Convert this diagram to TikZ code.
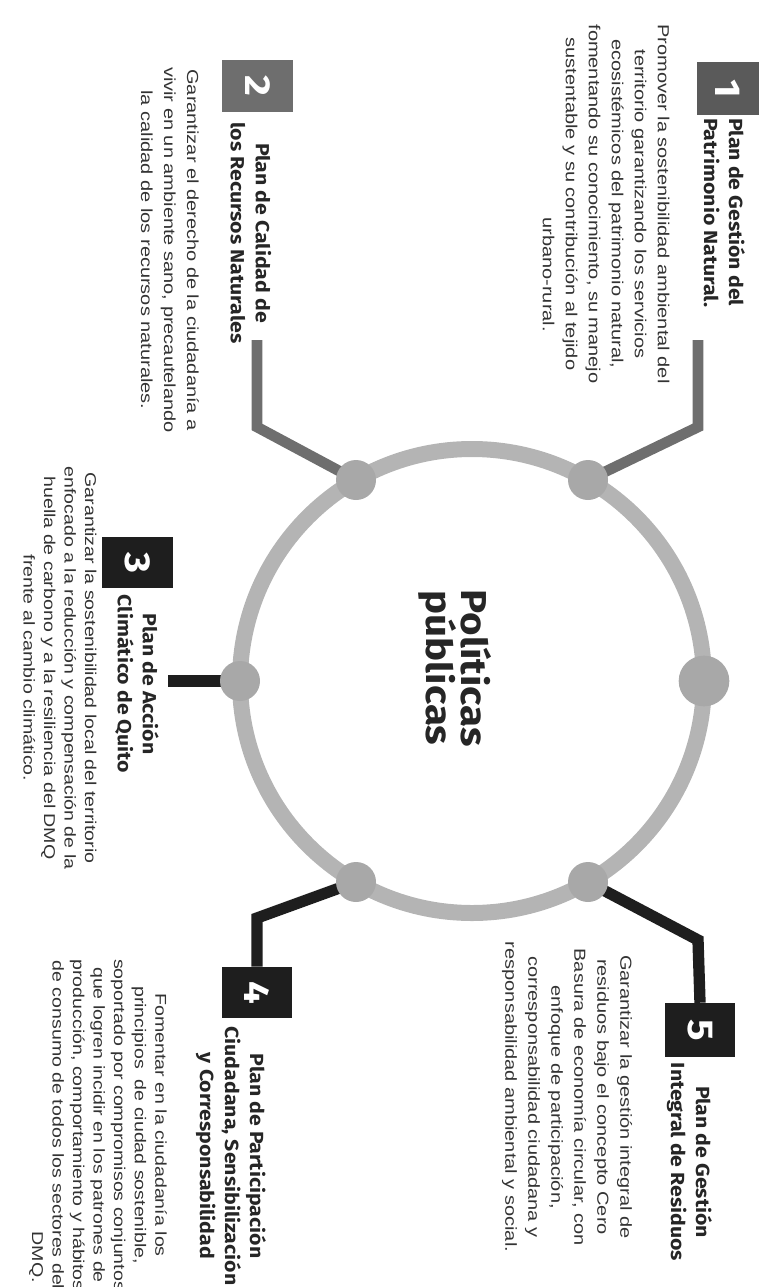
\documentclass[tikz,border=0pt]{standalone}
\usepackage{fontspec}
\usepackage{graphicx}
\newfontfamily\descfont{Liberation Sans}[FakeStretch=1.25]
\newfontfamily\ttlfont{Fira Sans}[FakeStretch=1.12]
\definecolor{txt}{HTML}{262626}
\definecolor{desctxt}{HTML}{333333}
\definecolor{ringc}{HTML}{B4B4B4}
\definecolor{dotc}{HTML}{A8A8A8}
\definecolor{midgray}{HTML}{6E6E6E}
\definecolor{boxone}{HTML}{5A5A5A}
\definecolor{dark}{HTML}{1E1E1E}
\begin{document}
\begin{tikzpicture}[x=0.75pt,y=-0.75pt,
  desc/.style={font=\descfont\fontsize{12}{17.25}\selectfont, text=desctxt, align=center, rotate=-90, inner sep=0pt},
  descsm/.style={desc, font=\descfont\fontsize{11.75}{15.4}\selectfont},
  ttl/.style={font=\ttlfont\bfseries\fontsize{14.25}{18.75}\selectfont, text=txt, rotate=-90, inner sep=0pt},
  numbox/.style={inner sep=0pt, text=white, font=\ttlfont\bfseries\fontsize{27}{27}\selectfont},
  dot/.style={circle, fill=dotc, inner sep=0pt, minimum size=30pt},
  ring/.style={draw=ringc, line width=12pt},
  grayline/.style={draw=midgray, line width=8pt},
  darkline/.style={draw=dark, line width=8.5pt}
]
\useasboundingbox (0,0) rectangle (768,1287);

% connectors bend points and free ends
\coordinate (k1) at (698,427);
\coordinate (e1) at (698,340);
\coordinate (k2) at (257,427);
\coordinate (e2) at (257,340);
\coordinate (e3) at (168,681);
\coordinate (k4) at (257,918);
\coordinate (k5) at (698,940);

% boxes
\node[numbox, fill=boxone, minimum width=46.5pt, minimum height=39.75pt] (b1) at (728,88.5) {\rotatebox{-90}{1}};
\node[numbox, fill=midgray, minimum width=53.25pt, minimum height=39pt] (b2) at (257.5,86) {\rotatebox{-90}{2}};
\node[numbox, fill=dark, minimum width=53.25pt, minimum height=38.25pt] (b3) at (137.5,562.5) {\rotatebox{-90}{3}};
\node[numbox, fill=dark, minimum width=52.5pt, minimum height=38.25pt] (b4) at (257,992.5) {\rotatebox{-90}{4}};
\node[numbox, fill=dark, minimum width=52.5pt, minimum height=40.5pt] (b5) at (700,1030) {\rotatebox{-90}{5}};

% dot positions
\coordinate (p1) at (588,480);
\coordinate (p2) at (356,480);
\coordinate (p3) at (240,681);
\coordinate (p4) at (356,882);
\coordinate (p5) at (588,882);
\coordinate (p6) at (704,681);

% connectors
\draw[grayline] (p1) -- (k1) -- (e1);
\draw[grayline] (p2) -- (k2) -- (e2);
\draw[darkline] (p3) -- (e3);
\draw[darkline] (p4) -- (k4) -- (b4.north);
\draw[darkline] (p5) -- (k5) -- (b5.north);

% ring
\draw[ring] (472,681) circle[radius=174pt];

% dots
\node[dot] (d1) at (p1) {};
\node[dot] (d2) at (p2) {};
\node[dot] (d3) at (p3) {};
\node[dot] (d4) at (p4) {};
\node[dot] (d5) at (p5) {};
\node[dot, minimum size=38pt] (d6) at (p6) {};

% centre text
\node[ttl, align=center, font=\ttlfont\bfseries\fontsize{27}{26.5}\selectfont] (center) at (455,668) {Políticas\\públicas};

% titles
\node[ttl, align=left, anchor=west] (t1) at (724.5,118) {Plan de Gestión del\\Patrimonio Natural.};
\node[ttl, align=center] (t2) at (251,233) {Plan de Calidad de\\los Recursos Naturales};
\node[ttl, align=center] (t3) at (137,684) {Plan de Acción\\Climático de Quito};
\node[ttl, align=center] (t4) at (231,1156) {Plan de Participación\\Ciudadana, Sensibilización\\y Corresponsabilidad};
\node[ttl, align=center] (t5) at (689.5,1162) {Plan de Gestión\\Integral de Residuos};

% descriptions
\node[desc] (s1) at (606,204) {Promover la sostenibilidad ambiental del\\territorio garantizando los servicios\\ecosistémicos del patrimonio natural,\\fomentando su conocimiento, su manejo\\sustentable y su contribución al tejido\\\makebox[0pt][l]{\hspace*{10pt}urbano-rural.}};
\node[desc] (s2) at (170,250) {Garantizar el derecho de la ciudadanía a\\vivir en un ambiente sano, precautelando\\la calidad de los recursos naturales.};
\node[descsm] (s3) at (60,668) {Garantizar la sostenibilidad local del territorio\\enfocado a la reducción y compensación de la\\huella de carbono y a la resiliencia del DMQ\\frente al cambio climático.};
\node[descsm] (s4) at (98,1125) {Fomentar en la ciudadanía los\\principios\ \ de ciudad sostenible,\\soportado por compromisos conjuntos\\que logren incidir en los patrones de\\producción, comportamiento y hábitos\\de consumo de todos los sectores del\\\makebox[0pt][l]{\hspace*{80pt}DMQ.}};
\node[desc] (s5) at (567,1097) {Garantizar la gestión integral de\\residuos bajo el concepto Cero\\Basura de economía circular, con\\enfoque de participación,\\corresponsabilidad ciudadana y\\responsabilidad ambiental y social.};
\end{tikzpicture}
\end{document}
